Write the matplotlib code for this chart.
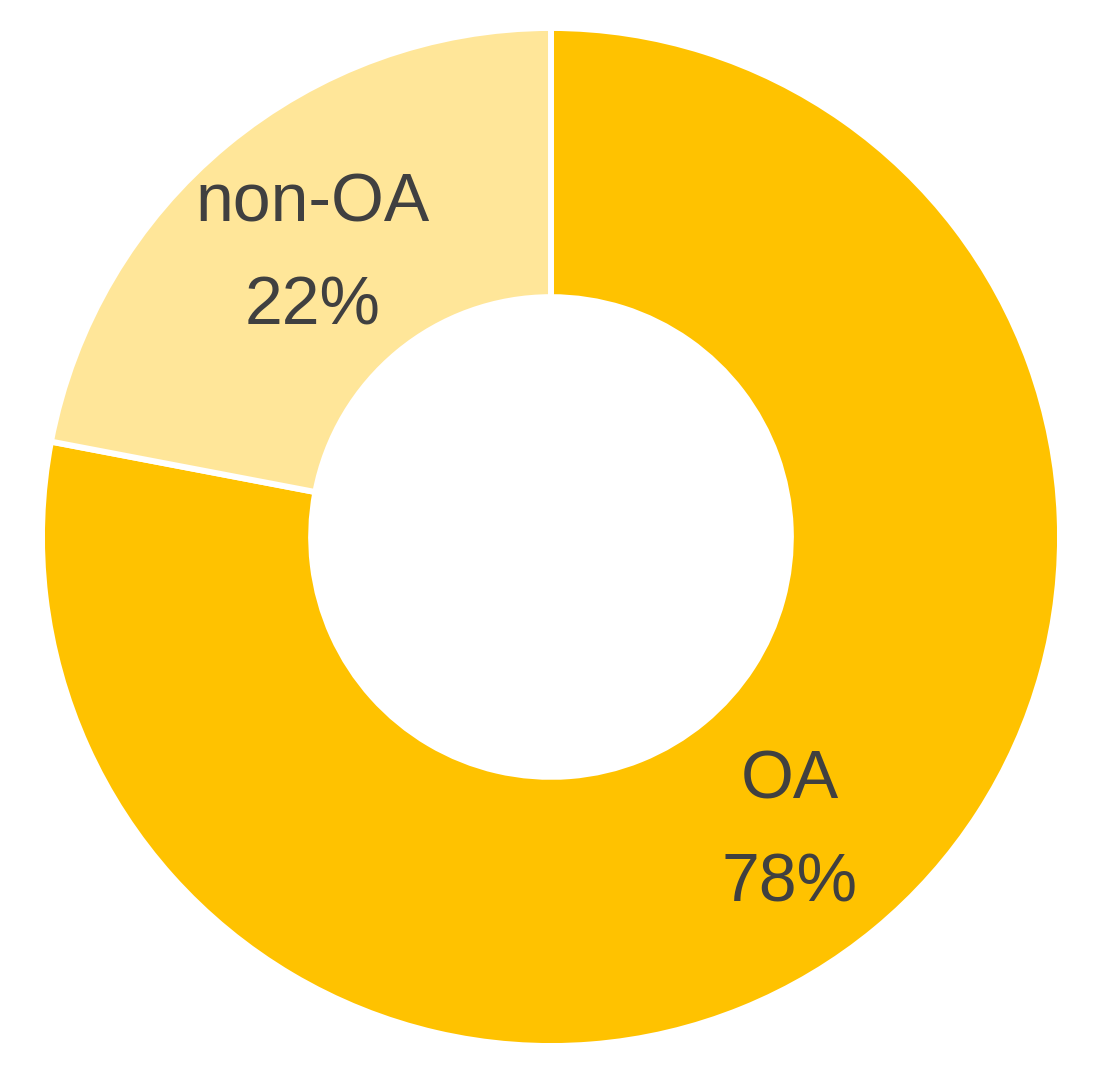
import numpy as np
import matplotlib
matplotlib.use("Agg")
import matplotlib.pyplot as plt

labels = ["OA", "non-OA"]
shares = [78, 22]
colors = ["#FFC200", "#FFE699"]

plt.rcParams['font.family'] = ['Liberation Sans', 'DejaVu Sans']

fig = plt.figure(figsize=(11.04, 10.70), dpi=100)
ax = fig.add_axes([0, 0, 1, 1])

# 1 data unit = 506 px
ax.pie(shares, colors=colors, startangle=90, counterclock=False,
       radius=1.006,
       wedgeprops=dict(width=0.532, edgecolor="white", linewidth=4.3))

# labels at middle of the ring
total = sum(shares)
start = 90.0
for lab, val in zip(labels, shares):
    mid = start - val / total * 360 / 2
    start -= val / total * 360
    r = 0.74
    x = r * np.cos(np.radians(mid))
    y = r * np.sin(np.radians(mid))
    ax.text(x, y + 0.053, lab, ha="center", va="baseline",
            fontsize=49, color="#404040")
    ax.text(x, y - 0.150, f"{val}%", ha="center", va="baseline",
            fontsize=49, color="#404040")

ax.set_xlim(-551 / 506, (1104 - 551) / 506)
ax.set_ylim(-533 / 506, 537 / 506)
ax.axis("off")

plt.savefig("out.png", dpi=100)
